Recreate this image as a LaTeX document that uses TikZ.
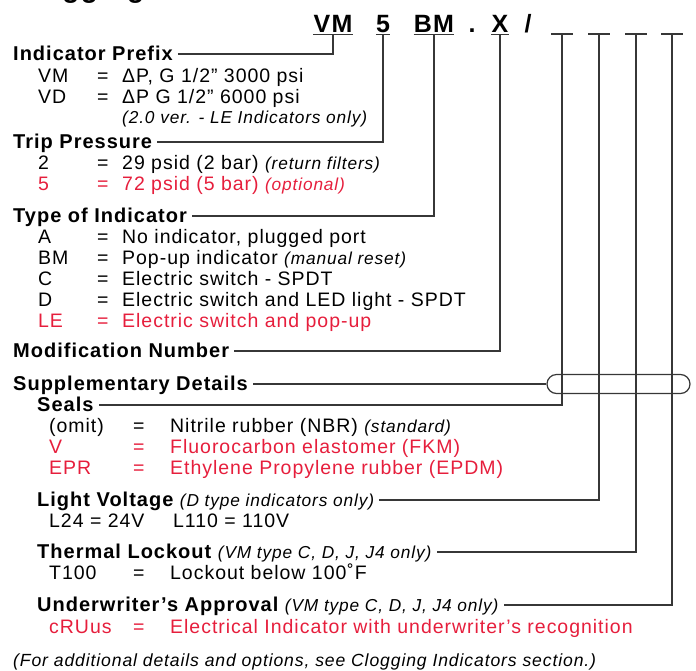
\documentclass[tikz,border=0pt]{standalone}
\usepackage{fontspec}
\setmainfont{Liberation Sans}[LetterSpace=5]
\usepackage{tikz}
\usetikzlibrary{calc}

\definecolor{optred}{RGB}{230,30,60}
\definecolor{rulegray}{RGB}{55,55,55}

\newcommand{\itemfont}{\fontsize{19.5}{22}\selectfont}
\newcommand{\headfont}{\fontsize{20}{22}\selectfont\bfseries}
\newcommand{\codefont}{\fontsize{25}{28}\selectfont\bfseries}
\newcommand{\note}[1]{{\fontsize{17.3}{19}\selectfont\mdseries\itshape #1}}
\newcommand{\keyA}[1]{\makebox[59pt][l]{#1}\makebox[25pt][l]{=}}
\newcommand{\keyB}[1]{\makebox[84pt][l]{#1}\makebox[37pt][l]{=}}

\tikzset{
  rule/.style={line width=1.2pt, draw=rulegray},
  code/.style={font=\codefont, anchor=base, inner sep=0pt},
  head/.style={font=\headfont, anchor=west, text height=14pt, text depth=1pt, inner xsep=5pt, inner ysep=0pt},
  item/.style={font=\itemfont, anchor=base west, inner sep=0pt},
  capsule/.style={rule, rounded corners=9.5pt, minimum width=143pt, minimum height=19pt, inner sep=0pt}
}

\begin{document}
\begin{tikzpicture}[x=1pt, y=-1pt]
  \useasboundingbox (0,0) rectangle (696,670);
  % title (cut off at the top)
  \node[anchor=base west, inner sep=0pt, font=\fontsize{28}{30}\selectfont\bfseries] (title) at (13,-3) {Clogging};

  % model code
  \node[code] (cVM) at (333,32) {VM};
  \node[code] (cTrip) at (383,32) {5};
  \node[code] (cType) at (434,32) {BM};
  \node[code] (cDot) at (472,32) {.};
  \node[code] (cMod) at (500,32) {X};
  \node[code] (cSlash) at (528,32) {/};
  \foreach \c in {cVM,cTrip,cType,cMod}
    \draw[rule] ([yshift=-2pt]\c.south west) -- ([yshift=-2pt]\c.south east);
  \coordinate (b1) at (562,34);
  \coordinate (b2) at (599,34);
  \coordinate (b3) at (636,34);
  \coordinate (b4) at (672,34);
  \foreach \b in {b1,b2,b3,b4}
    \draw[rule] ([xshift=-11pt]\b) -- ([xshift=11pt]\b);

  % indicator prefix
  \node[head] (hPrefix) at (8,54) {Indicator Prefix};
  \node[item] (pVM) at (38,82) {\keyA{VM}ΔP, G 1/2” 3000 psi};
  \node[item] (pVD) at (38,103) {\keyA{VD}ΔP G 1/2” 6000 psi};
  \node[item] (pVer) at (122,123) {\note{(2.0 ver. - LE Indicators only)}};
  \draw[rule] (hPrefix.east) -| ([yshift=-2pt]cVM.south);

  % trip pressure
  \node[head] (hTrip) at (8,142) {Trip Pressure};
  \node[item] (t2) at (38,169) {\keyA{2}29 psid (2 bar) \note{(return filters)}};
  \node[item, text=optred] (t5) at (38,190) {\keyA{5}72 psid (5 bar) \note{(optional)}};
  \draw[rule] (hTrip.east) -| ([yshift=-2pt]cTrip.south);

  % type of indicator
  \node[head] (hType) at (8,216) {Type of Indicator};
  \node[item] (tA) at (38,243) {\keyA{A}No indicator, plugged port};
  \node[item] (tBM) at (38,264) {\keyA{BM}Pop-up indicator \note{(manual reset)}};
  \node[item] (tC) at (38,285) {\keyA{C}Electric switch - SPDT};
  \node[item] (tD) at (38,306) {\keyA{D}Electric switch and LED light - SPDT};
  \node[item, text=optred] (tLE) at (38,327) {\keyA{LE}Electric switch and pop-up};
  \draw[rule] (hType.east) -| ([yshift=-2pt]cType.south);

  % modification number
  \node[head] (hMod) at (8,351) {Modification Number};
  \draw[rule] (hMod.east) -| ([yshift=-2pt]cMod.south);

  % supplementary details
  \node[head] (hSupp) at (8,384) {Supplementary Details};
  \node[capsule] (sdBox) at (618.5,384) {};
  \draw[rule] (hSupp.east) -- (sdBox.west);

  \node[head] (hSeals) at (32,405) {Seals};
  \node[item] (sOmit) at (49,432) {\keyB{(omit)}Nitrile rubber (NBR) \note{(standard)}};
  \node[item, text=optred] (sV) at (49,453) {\keyB{V}Fluorocarbon elastomer (FKM)};
  \node[item, text=optred] (sEPR) at (49,474) {\keyB{EPR}Ethylene Propylene rubber (EPDM)};

  \node[head] (hLight) at (32,500) {Light Voltage \note{(D type indicators only)}};
  \node[item] (lV) at (49,527) {\makebox[124pt][l]{L24 = 24V}L110 = 110V};

  \node[head] (hTherm) at (32,552) {Thermal Lockout \note{(VM type C, D, J, J4 only)}};
  \node[item] (tT100) at (49,579) {\keyB{T100}Lockout below 100˚F};

  \node[head] (hUL) at (32,605) {Underwriter’s Approval \note{(VM type C, D, J, J4 only)}};
  \node[item, text=optred] (uCR) at (49,633) {\keyB{cRUus}Electrical Indicator with underwriter’s recognition};

  \draw[rule] (b1) |- (hSeals.east);
  \draw[rule] (b2) |- (hLight.east);
  \draw[rule] (b3) |- (hTherm.east);
  \draw[rule] (b4) |- (hUL.east);

  % footnote
  \node[item] (foot) at (13,666) {{\fontsize{17.6}{19}\selectfont\itshape (For additional details and options, see Clogging Indicators section.)}};
\end{tikzpicture}
\end{document}
